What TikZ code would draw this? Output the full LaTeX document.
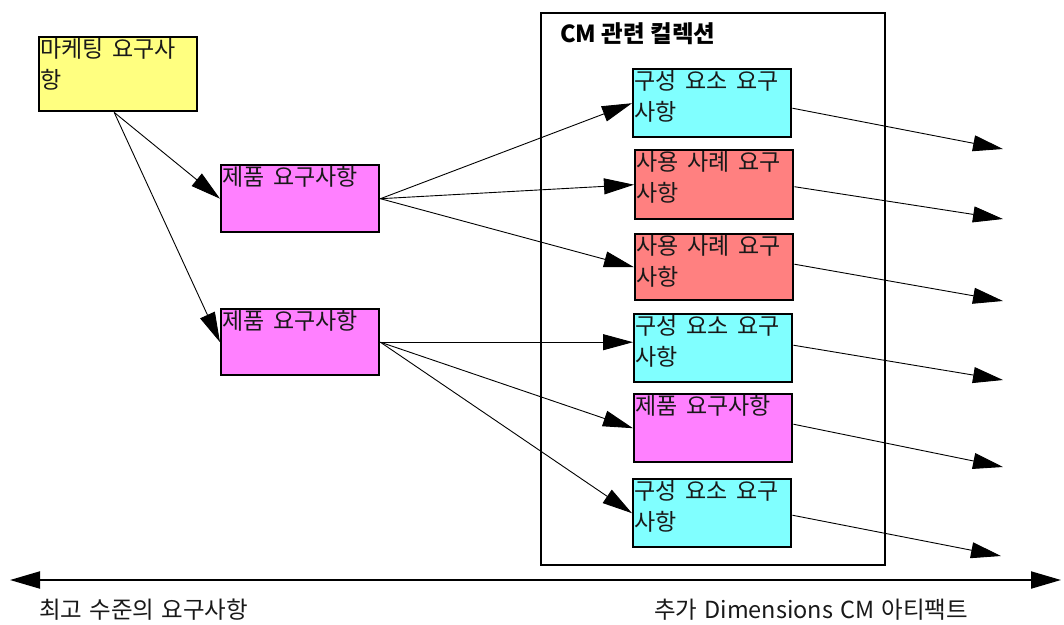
\documentclass[tikz,border=0pt]{standalone}
\usepackage{fontspec}
\setmainfont{Noto Sans CJK KR}
\usetikzlibrary{arrows.meta}
\definecolor{cyel}{HTML}{FFFF80}
\definecolor{cmag}{HTML}{FF80FF}
\definecolor{ccya}{HTML}{80FFFF}
\definecolor{cred}{HTML}{FF8080}
\newcommand{\bxfont}{\fontsize{23}{31.5}\selectfont\spaceskip=0.38em plus 0.1em\relax}
\newcommand{\lblfont}{\fontsize{23.5}{26}\selectfont\spaceskip=0.3em plus 0.1em\relax}
\tikzset{
  box/.style={draw=black, line width=2.4pt, anchor=north west, inner sep=0pt, minimum width=158pt},
  boxtxt/.style={anchor=north west, inner sep=0pt, align=left, font=\bxfont, text=black!90},
  conn/.style={line width=0.9pt, -{Triangle[length=30pt,width=16pt]}},
  lbl/.style={font=\lblfont, text=black!90, inner sep=0pt},
}
\begin{document}
\begin{tikzpicture}[x=1pt,y=-1pt]
\useasboundingbox (0,0) rectangle (1064,624);
% container
\node[draw=black, line width=2pt, anchor=north west, minimum width=344pt, minimum height=552pt, inner sep=0pt] (cont) at (540,12) {};
\node[anchor=west, inner sep=0pt, font=\bfseries\fontsize{23.5}{26}\selectfont] (title) at (560,34) {CM 관련 컬렉션};
% left boxes
\node[box, fill=cyel, minimum height=74pt] (m) at (38,36) {};
\node[boxtxt] (mt) at ([xshift=2pt,yshift=-2pt]m.north west) {마케팅 요구사\\항};
\node[box, fill=cmag, minimum height=67pt] (p1) at (220,164) {};
\node[boxtxt] (p1t) at ([xshift=2pt,yshift=-2pt]p1.north west) {제품 요구사항};
\node[box, fill=cmag, minimum height=66pt] (p2) at (220,308) {};
\node[boxtxt] (p2t) at ([xshift=2pt,yshift=-2pt]p2.north west) {제품 요구사항};
% right boxes
\node[box, fill=ccya, minimum height=68pt] (b1) at (632,68) {};
\node[boxtxt] (b1t) at ([xshift=2pt,yshift=-2pt]b1.north west) {구성 요소 요구\\사항};
\node[box, fill=cred, minimum height=69pt] (b2) at (634,149) {};
\node[boxtxt] (b2t) at ([xshift=2pt,yshift=-2pt]b2.north west) {사용 사례 요구\\사항};
\node[box, fill=cred, minimum height=66pt] (b3) at (634,233) {};
\node[boxtxt] (b3t) at ([xshift=2pt,yshift=-2pt]b3.north west) {사용 사례 요구\\사항};
\node[box, fill=ccya, minimum height=68pt] (b4) at (633,313) {};
\node[boxtxt] (b4t) at ([xshift=2pt,yshift=-2pt]b4.north west) {구성 요소 요구\\사항};
\node[box, fill=cmag, minimum height=68pt] (b5) at (633,393) {};
\node[boxtxt] (b5t) at ([xshift=2pt,yshift=-2pt]b5.north west) {제품 요구사항};
\node[box, fill=ccya, minimum height=68pt] (b6) at (632,478) {};
\node[boxtxt] (b6t) at ([xshift=2pt,yshift=-2pt]b6.north west) {구성 요소 요구\\사항};
% free ends
\coordinate (e1) at (1003,149);
\coordinate (e2) at (1003,219);
\coordinate (e3) at (1003,301);
\coordinate (e4) at (1003,380);
\coordinate (e5) at (1003,467);
\coordinate (e6) at (1001,556);
% connectors
\coordinate (ms) at ([xshift=-4pt]m.south);
\draw[conn] (ms) -- (p1.west);
\draw[conn] (ms) -- (p2.west);
\draw[conn] (p1.east) -- (b1.west);
\draw[conn] (p1.east) -- (b2.west);
\draw[conn] (p1.east) -- (b3.west);
\draw[conn] (p2.east) -- (p2.east -| b4.west);
\draw[conn] (p2.east) -- (b5.west);
\draw[conn] (p2.east) -- (b6.west);
\draw[conn] ([yshift=-5pt]b1.east) -- (e1);
\draw[conn] ([yshift=-2pt]b2.east) -- (e2);
\draw[conn] ([yshift=3pt]b3.east) -- (e3);
\draw[conn] ([yshift=3pt]b4.east) -- (e4);
\draw[conn] ([yshift=4pt]b5.east) -- (e5);
\draw[conn] ([yshift=-2pt]b6.east) -- (e6);
% bottom axis
\coordinate (al) at (10,580);
\coordinate (ar) at (1061,580);
\draw[line width=2pt, {Triangle[length=30pt,width=17pt]}-{Triangle[length=30pt,width=17pt]}] (al) -- (ar);
\node[lbl, anchor=west] (ll) at (39,610) {최고 수준의 요구사항};
\node[lbl, anchor=west] (rl) at (654,610) {추가 Dimensions CM 아티팩트};
\end{tikzpicture}
\end{document}
